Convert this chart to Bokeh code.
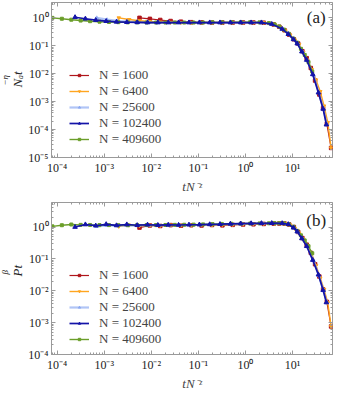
import math
from bokeh.plotting import figure
from bokeh.layouts import column
from bokeh.models import (FixedTicker, LogAxis, Label, Title, CustomJSTickFormatter, Range1d)
from bokeh.embed import file_html
from bokeh.resources import INLINE

# ---------------- data ----------------
labels = ["N = 1600", "N = 6400", "N = 25600", "N = 102400", "N = 409600"]

red_x = [5.62e-3, 9.33e-3, 0.0155, 0.0257, 0.0427, 0.0708, 0.117, 0.195, 0.324, 0.537, 0.891, 1.48, 2.45,
         3.98, 5.25, 6.76, 8.51, 10.7, 13.2, 16.2, 20.0, 24.5, 30.2, 37.2, 44.7, 53.7, 66.1]
red_a = [1.0, 0.92, 0.84, 0.77, 0.73, 0.70, 0.69, 0.68, 0.68, 0.68, 0.68, 0.68, 0.67,
         0.58, 0.48, 0.36, 0.25, 0.17, 0.12, 0.064, 0.036, 0.016, 0.0057, 0.0018, 5.8e-4, 1.6e-4, 2.2e-5]
red_b = [0.96, 1.12, 1.08, 1.15, 1.10, 1.14, 1.12, 1.16, 1.13, 1.17, 1.20, 1.22, 1.25,
         1.28, 1.29, 1.29, 1.20, 1.0, 0.70, 0.45, 0.28, 0.155, 0.068, 0.028, 0.011, 0.0045, 7.6e-4]

orange_x = [2.04e-3, 3.39e-3, 5.62e-3, 9.33e-3, 0.0155, 0.0257, 0.0427, 0.0708, 0.117, 0.195, 0.324, 0.537, 0.891, 1.48, 2.45,
            4.17, 5.50, 7.08, 8.91, 11.2, 13.8, 17.0, 20.9, 25.7, 31.6, 38.9, 46.8, 56.2, 66.1]
orange_a = [1.0, 0.87, 0.79, 0.74, 0.71, 0.69, 0.68, 0.68, 0.68, 0.68, 0.68, 0.68, 0.68, 0.68, 0.67,
            0.57, 0.46, 0.34, 0.24, 0.16, 0.11, 0.058, 0.031, 0.014, 0.006, 0.0023, 7e-4, 1.8e-4, 2.2e-5]
orange_b = [1.05, 1.15, 1.10, 1.14, 1.11, 1.15, 1.13, 1.14, 1.16, 1.15, 1.18, 1.20, 1.22, 1.25, 1.28,
            1.30, 1.30, 1.28, 1.16, 0.90, 0.64, 0.42, 0.26, 0.14, 0.062, 0.025, 0.011, 0.0042, 7.6e-4]

lblue_x = [6.92e-4, 1.15e-3, 1.91e-3, 3.16e-3, 5.25e-3, 8.71e-3, 0.0145, 0.0240, 0.0398, 0.0661, 0.110, 0.182, 0.302,
           0.501, 0.832, 1.38, 2.29, 3.80, 6.31, 8.51, 11.0, 13.2, 16.6, 20.9, 28.2, 36.3, 45.7, 53.7]
lblue_a = [1.0, 0.86, 0.78, 0.73, 0.70, 0.69, 0.68, 0.68, 0.68, 0.68, 0.68, 0.68, 0.68,
           0.68, 0.68, 0.68, 0.67, 0.59, 0.39, 0.25, 0.16, 0.115, 0.06, 0.029, 0.0085, 0.0021, 5.5e-4, 1.5e-4]
lblue_b = [1.05, 1.12, 1.10, 1.13, 1.11, 1.14, 1.12, 1.15, 1.14, 1.16, 1.17, 1.19, 1.21,
           1.23, 1.25, 1.27, 1.29, 1.30, 1.29, 1.20, 0.92, 0.68, 0.42, 0.24, 0.088, 0.030, 0.010, 0.0042]

blue_x = [2.40e-4, 3.98e-4, 6.61e-4, 1.10e-3, 1.82e-3, 3.02e-3, 5.01e-3, 8.32e-3, 0.0138, 0.0229, 0.0380, 0.0631, 0.105,
          0.174, 0.288, 0.479, 0.794, 1.32, 2.19, 3.63, 6.03, 8.13, 10.5, 12.6, 15.8, 20.0, 26.9, 35.5, 44.7, 52.5]
blue_a = [1.05, 0.93, 0.83, 0.76, 0.72, 0.70, 0.69, 0.68, 0.68, 0.68, 0.68, 0.68, 0.68,
          0.68, 0.68, 0.68, 0.68, 0.68, 0.68, 0.60, 0.40, 0.26, 0.17, 0.12, 0.062, 0.031, 0.0095, 0.0021, 5.5e-4, 1.5e-4]
blue_b = [1.0, 1.20, 1.10, 1.22, 1.12, 1.20, 1.14, 1.18, 1.15, 1.17, 1.16, 1.18, 1.19,
          1.21, 1.23, 1.26, 1.28, 1.30, 1.31, 1.32, 1.31, 1.22, 0.95, 0.72, 0.44, 0.25, 0.092, 0.032, 0.0105, 0.0043]

green_x = [7.94e-5, 1.26e-4, 2.0e-4, 3.16e-4, 5.01e-4, 7.94e-4, 1.26e-3, 2.0e-3, 3.16e-3, 5.01e-3, 7.94e-3, 0.0126,
           0.020, 0.0316, 0.0501, 0.0794, 0.126, 0.20, 0.316, 0.501, 0.794, 1.26, 2.0, 3.16,
           4.17, 5.25, 6.61, 8.32, 10.5, 12.6, 15.1, 18.2, 21.9, 26.3]
green_a = [1.0, 0.93, 0.86, 0.80, 0.76, 0.73, 0.71, 0.70, 0.69, 0.69, 0.68, 0.68,
           0.68, 0.68, 0.68, 0.68, 0.68, 0.69, 0.69, 0.70, 0.70, 0.70, 0.69, 0.65,
           0.58, 0.49, 0.38, 0.27, 0.18, 0.13, 0.078, 0.047, 0.026, 0.012]
green_b = [1.05, 1.14, 1.20, 1.17, 1.16, 1.15, 1.15, 1.14, 1.14, 1.15, 1.15, 1.15,
           1.16, 1.17, 1.18, 1.19, 1.21, 1.23, 1.25, 1.27, 1.28, 1.29, 1.30, 1.31,
           1.32, 1.32, 1.30, 1.22, 1.02, 0.76, 0.55, 0.38, 0.25, 0.15]

x_ticks = [1e-4, 1e-3, 1e-2, 1e-1, 1e0, 1e1]
ya_ticks = [1e-5, 1e-4, 1e-3, 1e-2, 1e-1, 1e0]
yb_ticks = [1e-4, 1e-3, 1e-2, 1e-1, 1e0]

# ---------------- styling ----------------
SERIF = "Liberation Serif"
AXIS_GRAY = "#9a9a9a"
styles = [
    dict(color="#b0161b", marker="square", size=3.5, lw=1.2, alpha=1.0),
    dict(color="#ffa51f", marker="inverted_triangle", size=3.5, lw=1.4, alpha=1.0),
    dict(color="#7d9ef0", marker="triangle", size=3.5, lw=2.2, alpha=0.6),
    dict(color="#1414a8", marker="triangle", size=4.5, lw=1.7, alpha=1.0),
    dict(color="#6b9e2a", marker="square", size=3, lw=1.4, alpha=1.0),
]
draw_order = [0, 1, 2, 4, 3]

FMT = CustomJSTickFormatter(code="""
const sup = {'-':'\u207b','0':'\u2070','1':'\u00b9','2':'\u00b2','3':'\u00b3','4':'\u2074',
             '5':'\u2075','6':'\u2076','7':'\u2077','8':'\u2078','9':'\u2079'};
const e = Math.round(Math.log10(tick));
return '10' + String(e).split('').map(c => sup[c]).join('');
""")
BLANK = CustomJSTickFormatter(code="return '';")


def minor_list(lo, hi):
    out = []
    for d in range(lo, hi + 1):
        for m in range(2, 10):
            out.append(m * 10.0 ** d)
    return out


def make_panel(height, ylo, yhi, yticks, series_y, top_border, tag, tag_y,
               lab_main, lab_sup, main_off, sup_off):
    p = figure(width=337, height=height, x_axis_type="log", y_axis_type="log",
               x_range=Range1d(10 ** -4.12, 10 ** 1.85), y_range=Range1d(ylo, yhi),
               output_backend="svg", toolbar_location=None,
               min_border_left=10, min_border_right=5, min_border_top=top_border, min_border_bottom=10)
    p.grid.visible = False
    p.outline_line_color = AXIS_GRAY
    p.background_fill_color = "white"
    p.border_fill_color = "white"

    xt = FixedTicker(ticks=x_ticks, minor_ticks=minor_list(-5, 1))
    yt = FixedTicker(ticks=yticks, minor_ticks=minor_list(-6, 0))
    for ax in (p.xaxis[0], p.yaxis[0]):
        ax.formatter = FMT
        ax.major_label_text_font = SERIF
        ax.major_label_text_font_size = "12px"
        ax.major_label_text_color = "#222222"
        ax.axis_line_color = AXIS_GRAY
        ax.major_tick_line_color = AXIS_GRAY
        ax.minor_tick_line_color = AXIS_GRAY
        ax.major_tick_in = 4
        ax.major_tick_out = 0
        ax.minor_tick_in = 2
        ax.minor_tick_out = 0
        ax.major_label_standoff = 3
    p.xaxis[0].ticker = xt
    p.yaxis[0].ticker = yt
    p.xaxis[0].axis_label = "tN\u207b\u1dbb"
    p.xaxis[0].axis_label_text_font = SERIF
    p.xaxis[0].axis_label_text_font_style = "italic"
    p.xaxis[0].axis_label_text_font_size = "13px"
    p.xaxis[0].axis_label_standoff = 1

    for loc, tk in (("above", xt), ("right", yt)):
        ax = LogAxis(ticker=tk, formatter=BLANK, axis_line_color=None,
                     major_tick_line_color=AXIS_GRAY, minor_tick_line_color=AXIS_GRAY,
                     major_tick_in=4, major_tick_out=0, minor_tick_in=2, minor_tick_out=0,
                     major_label_standoff=0, major_label_text_font_size="1px")
        p.add_layout(ax, loc)

    # y-axis label: main text and superscript as two stacked side titles
    p.add_layout(Title(text=lab_main, align="left", offset=main_off, standoff=2,
                       text_font=SERIF, text_font_style="italic", text_font_size="13px",
                       text_color="#222222"), "left")
    p.add_layout(Title(text=lab_sup, align="left", offset=sup_off, standoff=-6,
                       text_font=SERIF, text_font_style="italic", text_font_size="9px",
                       text_color="#222222"), "left")

    xs = [red_x, orange_x, lblue_x, blue_x, green_x]
    for i in draw_order:
        s = styles[i]
        p.line(xs[i], series_y[i], line_color=s["color"], line_width=s["lw"], line_alpha=s["alpha"],
               legend_label=labels[i])
        p.scatter(xs[i], series_y[i], marker=s["marker"], size=s["size"], fill_color=s["color"],
                  line_color=s["color"], alpha=s["alpha"], legend_label=labels[i])

    items = p.legend[0].items
    order = {lab: k for k, lab in enumerate(labels)}
    p.legend[0].items = sorted(items, key=lambda it: order[it.label.value])
    lg = p.legend[0]
    lg.background_fill_alpha = 0
    lg.border_line_alpha = 0
    lg.label_text_font = SERIF
    lg.label_text_font_size = "13px"
    lg.glyph_width = 20
    lg.glyph_height = 6
    lg.label_height = 11
    lg.spacing = 0
    lg.padding = 0
    lg.margin = 0
    lg.label_standoff = 10

    p.add_layout(Label(x=32, y=tag_y, text=tag, text_font=SERIF, text_font_size="17px",
                       text_align="center", text_baseline="middle", text_color="#222222"))
    return p


pa = make_panel(196, 1e-5, 10 ** 0.55, ya_ticks, [red_a, orange_a, lblue_a, blue_a, green_a], 2,
                "(a)", 1.0, "N\u2090t", "\u2212\u03b7", 70, 72)
pa.legend[0].location = (18, 10)

pb = make_panel(197, 1e-4, 10 ** 0.77, yb_ticks, [red_b, orange_b, lblue_b, blue_b, green_b], 6,
                "(b)", 1.55, "Pt", "\u03b2", 78, 80)
pb.legend[0].location = (18, 7)

layout = column(pa, pb, spacing=0)
open("out.html", "w").write(file_html(layout, INLINE))
